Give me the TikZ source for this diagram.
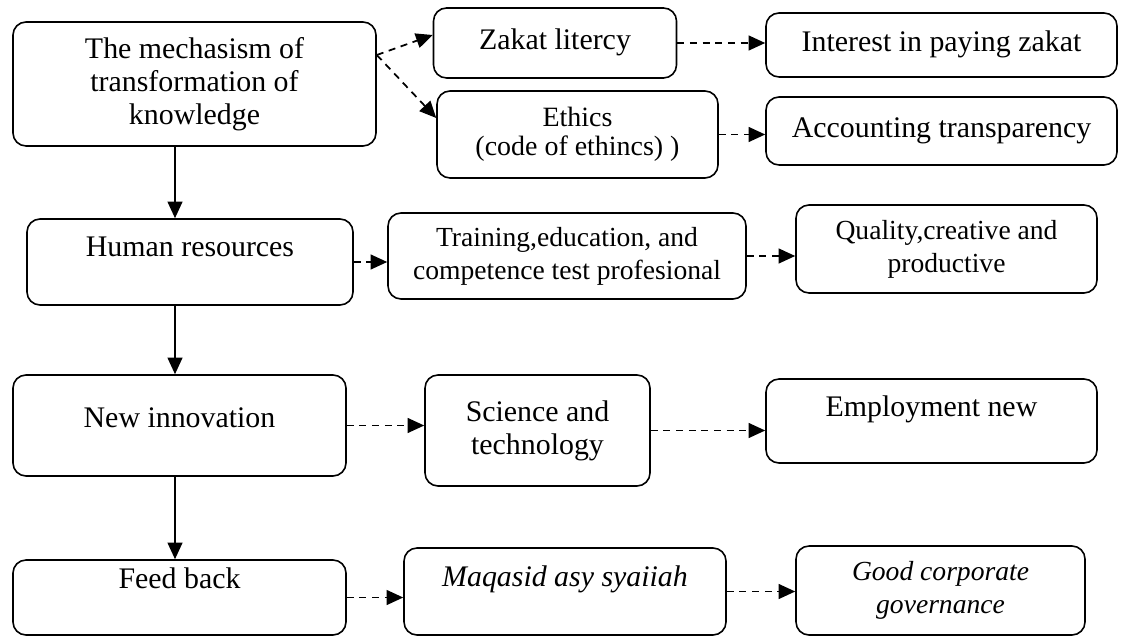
\documentclass[tikz,border=0pt]{standalone}
\usepackage{fontspec}
\setmainfont{Liberation Serif}
\usetikzlibrary{arrows.meta, calc}

\begin{document}
\begin{tikzpicture}[
    box/.style={draw, rounded corners=0.26cm, line width=0.9pt, align=center, inner sep=2pt, font=\fontsize{17}{18.8}\selectfont},
    small/.style={font=\fontsize{15.7}{18.8}\selectfont},
    dims/.style 2 args={minimum width=#1cm, minimum height=#2cm},
    lift/.style={text height=12pt, text depth=#1},
    flow/.style={-{Triangle[length=9.5pt,width=8.5pt]}, line width=1pt},
    link/.style={flow, dash pattern=on 4pt off 3.2pt}
]
    \useasboundingbox (0,0) rectangle (22.5,-12.74);

    % Left column
    \node[box, dims={7.26}{2.48}] (mech) at (3.89,-1.68) {The mechasism of\\transformation of\\knowledge};
    \node[box, dims={6.52}{1.72}, lift=17.9pt] (hr) at (3.80,-5.24) {Human resources};
    \node[box, dims={6.66}{2.02}, lift=9.5pt] (innov) at (3.59,-8.51) {New innovation};
    \node[box, dims={6.66}{1.50}, lift=21.9pt] (feed) at (3.59,-11.95) {Feed back};

    % Middle column
    \node[box, dims={4.86}{1.40}, lift=4.3pt] (zakat) at (11.10,-0.86) {Zakat litercy};
    \node[box, small, dims={5.62}{1.74}, font=\fontsize{15.9}{16.5}\selectfont] (ethics) at (11.55,-2.69) {Ethics\\(code of ethincs) )};
    \node[box, small, dims={7.16}{1.72}] (train) at (11.34,-5.12) {Training,education, and\\competence test profesional};
    \node[box, dims={4.50}{2.22}] (sci) at (10.75,-8.61) {Science and\\technology};
    \node[box, dims={6.44}{1.74}, lift=17.3pt] (maqasid) at (11.30,-11.83) {\itshape Maqasid asy syaiiah};

    % Right column
    \node[box, dims={7.02}{1.28}, lift=4.3pt] (interest) at (18.83,-0.90) {Interest in paying zakat};
    \node[box, dims={7.02}{1.36}, lift=4.3pt] (account) at (18.83,-2.62) {Accounting transparency};
    \node[box, small, dims={6.02}{1.76}] (quality) at (18.93,-4.98) {Quality,creative and\\productive};
    \node[box, dims={6.62}{1.68}, lift=16.9pt] (employ) at (18.63,-8.42) {Employment new};
    \node[box, small, dims={5.78}{1.78}] (gcg) at (18.81,-11.81) {\itshape Good corporate\\\itshape governance};

    % Main flow
    \coordinate (spine) at (3.5,0);
    \draw[flow] (mech.south -| spine) -- (hr.north -| spine);
    \draw[flow] (hr.south -| spine) -- (innov.north -| spine);
    \draw[flow] (innov.south -| spine) -- (feed.north -| spine);

    % Dashed links
    \coordinate (fork) at ([yshift=0.58cm]mech.east);
    \draw[link] (fork) -- ([yshift=0.16cm]zakat.west);
    \draw[link] (fork) -- ([yshift=0.33cm]ethics.west);
    \draw[link] (zakat.east) -- (interest.west |- zakat.east);
    \draw[link] (ethics.east) -- (account.west |- ethics.east);
    \draw[link] (hr.east) -- (train.west |- hr.east);
    \draw[link] (train.east) -- (quality.west |- train.east);
    \draw[link] (innov.east) -- (sci.west |- innov.east);
    \draw[link] (sci.east) -- (employ.west |- sci.east);
    \draw[link] (feed.east) -- (maqasid.west |- feed.east);
    \draw[link] (maqasid.east) -- (gcg.west |- maqasid.east);
\end{tikzpicture}
\end{document}
